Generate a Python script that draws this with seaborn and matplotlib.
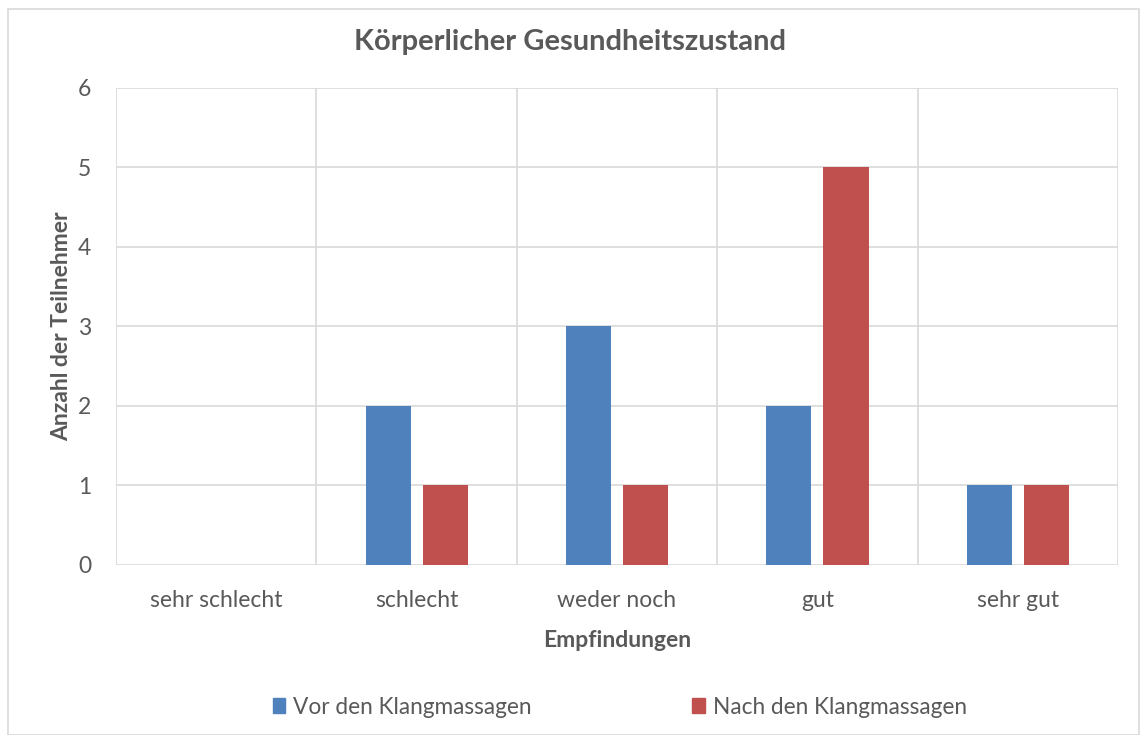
import matplotlib
matplotlib.use("Agg")
import matplotlib.pyplot as plt
import numpy as np
import pandas as pd
import seaborn as sns
from matplotlib.patches import Rectangle

categories = ["sehr schlecht", "schlecht", "weder noch", "gut", "sehr gut"]
series_names = ["Vor den Klangmassagen", "Nach den Klangmassagen"]
vor_values = [0, 2, 3, 2, 1]
nach_values = [0, 1, 1, 5, 1]
y_ticks = [0, 1, 2, 3, 4, 5, 6]

colors = ["#4F81BD", "#C0504D"]
text_color = "#595959"
grid_color = "#D9D9D9"

sns.set_theme(style="white")
plt.rcParams["font.family"] = ["Lato", "DejaVu Sans"]

df = pd.DataFrame({
    "Empfindungen": categories * 2,
    "Anzahl": vor_values + nach_values,
    "Serie": [series_names[0]] * len(categories) + [series_names[1]] * len(categories),
})

fig = plt.figure(figsize=(11.41, 7.35), dpi=100)
ax = fig.add_axes([0.1017, 0.2313, 0.8782, 0.6490])

sns.barplot(data=df, x="Empfindungen", y="Anzahl", hue="Serie",
            order=categories, hue_order=series_names, palette=colors,
            width=0.57, gap=0.21, saturation=1, errorbar=None, ax=ax,
            legend=False, linewidth=0)

ax.set_xlim(-0.5, len(categories) - 0.5)
ax.set_ylim(0, 6)
ax.set_yticks(y_ticks)
ax.set_yticklabels([str(t) for t in y_ticks])
ax.set_xticks(np.arange(-0.5, len(categories)), minor=True)
ax.grid(axis="y", which="major", color=grid_color, linewidth=1.2)
ax.grid(axis="x", which="minor", color=grid_color, linewidth=1.2)
ax.grid(axis="x", which="major", visible=False)
ax.set_axisbelow(True)
for s in ax.spines.values():
    s.set_visible(False)
ax.tick_params(axis="both", which="both", length=0, colors=text_color, labelsize=16.5)
ax.tick_params(axis="x", pad=18)
ax.tick_params(axis="y", pad=18)

ax.set_xlabel("Empfindungen", fontsize=16.5, fontweight="bold", color=text_color, labelpad=14)
ax.set_ylabel("Anzahl der Teilnehmer", fontsize=16.5, fontweight="bold", color=text_color)
ax.yaxis.set_label_coords(-0.044, 0.5)
fig.text(0.5, 0.943, "Körperlicher Gesundheitszustand", ha="center", va="center",
         fontsize=21, fontweight="bold", color=text_color)

handles = [Rectangle((0, 0), 1, 1, color=c) for c in colors]
fig.legend(handles, series_names, loc="center", bbox_to_anchor=(0.543, 0.038),
           ncol=2, frameon=False, fontsize=16.3, handlelength=0.55, handleheight=0.6,
           handletextpad=0.35, columnspacing=7.1, labelcolor=text_color)

fig.patches.append(Rectangle((0.007, 0.0), 0.991, 0.988, transform=fig.transFigure,
                             fill=False, edgecolor=grid_color, linewidth=1.2))

fig.savefig("out.png", dpi=100)
